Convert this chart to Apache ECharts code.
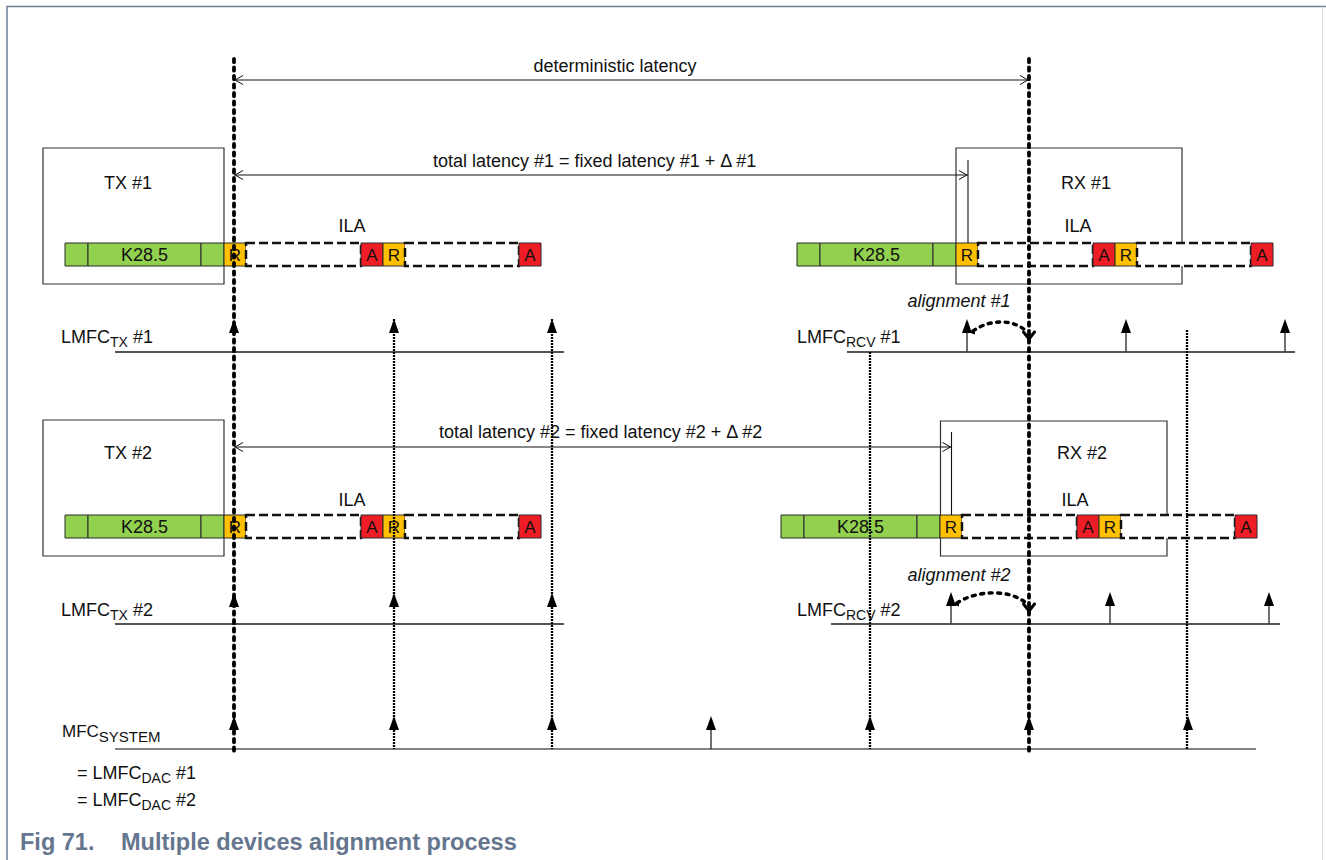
<!DOCTYPE html>
<html><head><meta charset="utf-8">
<script src="https://cdn.jsdelivr.net/npm/echarts@6/dist/echarts.min.js"></script>
<style>html,body{margin:0;padding:0;background:#fff;}#main{width:1326px;height:860px;}</style>
</head><body><div id="main"></div>
<script>
// ---------------- DATA (positions along the time axis) ----------------
const mfcSystemTicks = [234, 394, 552, 711, 870, 1029, 1188];
const lmfcTx1Ticks   = [234, 394, 552];
const lmfcRcv1Ticks  = [967, 1126, 1285];
const lmfcTx2Ticks   = [234, 394, 552];
const lmfcRcv2Ticks  = [951, 1110, 1269];
const syncEdges   = [234, 1029];              // deterministic latency bounds
const periodEdges = [394, 552, 870, 1187];    // LMFC period markers
const frameLabels  = ['', 'K28.5', '', 'R', '', 'A', 'R', '', 'A'];
const frameKinds   = ['K', 'K', 'K', 'R', 'ILA', 'A', 'R', 'ILA', 'A'];
const frameLengths = [23, 113, 23, 22, 115, 22, 22, 114, 22];
const deviceNames  = ['TX #1', 'RX #1', 'TX #2', 'RX #2'];
const deviceFrom   = [43, 956, 43, 940.5];
const deviceTo     = [224, 1182, 224, 1167];
const streamStarts = [65, 797, 65, 781];
const latencyNames = ['deterministic latency', 'total latency #1 = fixed latency #1 + Δ #1', 'total latency #2 = fixed latency #2 + Δ #2'];
const latencyFrom  = [234, 234, 234];
const latencyTo    = [1029, 968, 951.5];
const clockMain    = ['LMFC', 'LMFC', 'LMFC', 'LMFC', 'MFC'];
const clockSub     = ['TX', 'RCV', 'TX', 'RCV', 'SYSTEM'];
const clockSuffix  = ['#1', '#1', '#2', '#2', ''];
const clockTicks   = [lmfcTx1Ticks, lmfcRcv1Ticks, lmfcTx2Ticks, lmfcRcv2Ticks, mfcSystemTicks];
const clockFrom    = [115, 847, 115, 831, 115];
const clockTo      = [564, 1295, 564, 1280, 1256];
const alignNames   = ['alignment #1', 'alignment #2'];
const alignFrom    = [973, 957];
const alignTo      = [1029, 1029];
const dacNotes     = ['#1', '#2'];

// ---------------- LAYOUT (vertical lanes, label anchors) ----------------
const LAY = {
  devTop: [148, 148, 420, 421], devBottom: [284, 284, 556, 556],
  devLabel: [[128, 183], [1086, 183], [128, 453], [1082, 453]],
  ilaLabel: [[352, 226], [1078, 226], [352, 500], [1075, 500]],
  streamTop: [243, 243, 515, 515], streamH: 23,
  latY: [80, 175, 447], latLabel: [[615, 66, 'center'], [433, 161, 'left'], [439, 432, 'left']],
  latTickTop: [null, 160, 432], latTickBottom: [null, 243, 515],
  clockY: [352, 352, 624, 624, 749], clockTip: [319, 319, 593, 592, 716],
  clockLabel: [[61, 337], [797, 337], [61, 610], [797, 610], [62, 731]],
  alignY: [[331, 331], [603, 603]], alignPeak: [[988, 320, 1012, 318], [975, 591, 1008, 588]],
  alignLabel: [[959, 301], [959, 575]],
  syncTop: 59, syncBottom: 752, periodTop: [319, 319, 352, 330], periodBottom: 749,
  dacY: [773, 800], dacX: 77
};
const FONT = '"Liberation Sans", Arial, Helvetica, sans-serif';
const INK = '#111';
const COLORS = { K: '#92D050', R: '#FFC000', A: '#EE1C25', ILA: '#ffffff' };

const mctx = document.createElement('canvas').getContext('2d');
function tw(t, size, weight, style) { mctx.font = (style || 'normal') + ' ' + (weight || 'normal') + ' ' + size + 'px ' + FONT; return mctx.measureText(t).width; }
function T(x, y, text, size, o) {
  o = o || {};
  return { type: 'text', style: { x: x, y: y, text: text, fill: o.fill || INK, fontSize: size, fontFamily: FONT,
    fontWeight: o.weight || 'normal', fontStyle: o.style || 'normal', align: o.align || 'left', verticalAlign: 'middle' } };
}
function Ln(a, b, st) { return { type: 'line', shape: { x1: a[0], y1: a[1], x2: b[0], y2: b[1] }, style: Object.assign({ stroke: INK, lineWidth: 1.2, fill: null }, st || {}) }; }
function subLabel(x, y, main, sub, suffix, ms, ss, prefix) {
  const out = []; let cx = x;
  if (prefix) { out.push(T(cx, y, prefix, ms)); cx += tw(prefix + ' ', ms); }
  out.push(T(cx, y, main, ms)); cx += tw(main, ms);
  out.push(T(cx, y + 5, sub, ss)); cx += tw(sub, ss);
  if (suffix) { cx += tw(' ', ms); out.push(T(cx, y, suffix, ms)); }
  return out;
}
function onEdge(x) { return syncEdges.concat(periodEdges).some(e => Math.abs(e - x) < 3); }

// stream segments built from the frame lengths
const segs = [];
streamStarts.forEach((s, i) => { let x = s; frameLengths.forEach((len, j) => { segs.push([x, LAY.streamTop[i], x + len, i, j]); x += len; }); });

const chart = echarts.init(document.getElementById('main'), null, { renderer: 'svg' });
const base = { type: 'custom', coordinateSystem: 'cartesian2d', clip: false, silent: true, animation: false };

const option = {
  animation: false,
  grid: { left: 0, right: 0, top: 0, bottom: 0 },
  xAxis: { type: 'value', min: 0, max: 1326, show: false },
  yAxis: { type: 'value', min: 0, max: 860, inverse: true, show: false },
  graphic: [
    { type: 'polyline', shape: { points: [[7, 860], [7, 6.5], [1326, 6.5]] }, style: { stroke: '#6f7f99', lineWidth: 1.5, fill: null } },
    { type: 'line', shape: { x1: 1322.5, y1: 6.5, x2: 1322.5, y2: 860 }, style: { stroke: '#dcdcdc', lineWidth: 1 } },
    { type: 'text', left: 20, top: 830, style: { text: 'Fig 71.', fill: '#66768f', fontSize: 23.5, fontWeight: 'bold', fontFamily: FONT } },
    { type: 'text', left: 121, top: 830, style: { text: 'Multiple devices alignment process', fill: '#66768f', fontSize: 23.5, fontWeight: 'bold', fontFamily: FONT } }
  ],
  series: [
    Object.assign({}, base, { name: 'devices', z: 1, data: deviceNames.map((n, i) => [deviceFrom[i], LAY.devTop[i]]),
      renderItem: function (p, api) {
        const i = p.dataIndex;
        const a = api.coord([deviceFrom[i], LAY.devTop[i]]), b = api.coord([deviceTo[i], LAY.devBottom[i]]);
        const l = api.coord(LAY.devLabel[i]), il = api.coord(LAY.ilaLabel[i]);
        return { type: 'group', children: [
          { type: 'rect', shape: { x: a[0], y: a[1], width: b[0] - a[0], height: b[1] - a[1] }, style: { fill: null, stroke: '#333', lineWidth: 1.2 } },
          T(l[0], l[1], deviceNames[i], 18, { align: 'center' }),
          T(il[0], il[1], 'ILA', 18, { align: 'center' })
        ] };
      } }),
    Object.assign({}, base, { name: 'streams', z: 2, data: segs.map(s => [s[0], s[1]]),
      renderItem: function (p, api) {
        const s = segs[p.dataIndex], kind = frameKinds[s[4]];
        const a = api.coord([s[0], s[1]]), b = api.coord([s[2], s[1] + LAY.streamH]);
        const ch = [];
        if (kind === 'ILA') {
          ch.push({ type: 'rect', shape: { x: a[0], y: a[1], width: b[0] - a[0], height: b[1] - a[1] }, style: { fill: '#fff', stroke: INK, lineWidth: 2.5, lineDash: [9, 4] } });
        } else {
          ch.push({ type: 'rect', shape: { x: a[0], y: a[1], width: b[0] - a[0], height: b[1] - a[1] }, style: { fill: COLORS[kind], stroke: '#2a2a2a', lineWidth: 1 } });
        }
        const lab = frameLabels[s[4]];
        if (lab) ch.push(T((a[0] + b[0]) / 2, (a[1] + b[1]) / 2 + 0.5, lab, lab.length > 1 ? 18 : 17, { align: 'center' }));
        return { type: 'group', children: ch };
      } }),
    Object.assign({}, base, { name: 'latency', z: 3, data: latencyNames.map((n, i) => [latencyFrom[i], LAY.latY[i]]),
      renderItem: function (p, api) {
        const i = p.dataIndex;
        const a = api.coord([latencyFrom[i], LAY.latY[i]]), b = api.coord([latencyTo[i], LAY.latY[i]]);
        const ch = [Ln(a, b, { lineWidth: 1.1 }),
          { type: 'polyline', shape: { points: [[a[0] + 9, a[1] - 4.5], [a[0] + 1, a[1]], [a[0] + 9, a[1] + 4.5]] }, style: { stroke: INK, lineWidth: 1, fill: null } },
          { type: 'polyline', shape: { points: [[b[0] - 9, b[1] - 4.5], [b[0] - 1, b[1]], [b[0] - 9, b[1] + 4.5]] }, style: { stroke: INK, lineWidth: 1, fill: null } }];
        if (LAY.latTickTop[i] != null) ch.push(Ln(api.coord([latencyTo[i], LAY.latTickTop[i]]), api.coord([latencyTo[i], LAY.latTickBottom[i]]), { lineWidth: 1.1 }));
        const lp = api.coord([LAY.latLabel[i][0], LAY.latLabel[i][1]]);
        ch.push(T(lp[0], lp[1], latencyNames[i], 18, { align: LAY.latLabel[i][2] }));
        return { type: 'group', children: ch };
      } }),
    Object.assign({}, base, { name: 'clocks', z: 3, data: clockMain.map((n, i) => [clockFrom[i], LAY.clockY[i]]),
      renderItem: function (p, api) {
        const i = p.dataIndex, y = LAY.clockY[i], tip = LAY.clockTip[i];
        const ch = [Ln(api.coord([clockFrom[i], y]), api.coord([clockTo[i], y]), { lineWidth: i === 4 ? 1.6 : 1.3, stroke: i === 4 ? '#5a5a5a' : '#1a1a1a' })];
        clockTicks[i].forEach(x => {
          const t = api.coord([x, tip]), bse = api.coord([x, y]);
          if (!onEdge(x)) ch.push(Ln(bse, [t[0], t[1] + 10], { lineWidth: 1.4, stroke: '#333' }));
          ch.push({ type: 'polygon', shape: { points: [[t[0], t[1]], [t[0] - 5, t[1] + 14], [t[0] + 5, t[1] + 14]] }, style: { fill: '#000' } });
        });
        const lp = api.coord(LAY.clockLabel[i]);
        if (i === 4) {
          subLabel(lp[0], lp[1], clockMain[i], clockSub[i], '', 17, 15).forEach(e => ch.push(e));
          dacNotes.forEach((d, k) => {
            const dp = api.coord([LAY.dacX, LAY.dacY[k]]);
            subLabel(dp[0], dp[1], 'LMFC', 'DAC', d, 18, 14, '=').forEach(e => ch.push(e));
          });
        } else {
          subLabel(lp[0], lp[1], clockMain[i], clockSub[i], clockSuffix[i], 18, 14).forEach(e => ch.push(e));
        }
        return { type: 'group', children: ch };
      } }),
    Object.assign({}, base, { name: 'edges', z: 4, data: syncEdges.concat(periodEdges).map(x => [x, LAY.syncTop]),
      renderItem: function (p, api) {
        const i = p.dataIndex;
        if (i < syncEdges.length) {
          const x = syncEdges[i];
          return Ln(api.coord([x, LAY.syncTop]), api.coord([x, LAY.syncBottom]), { lineWidth: 3.8, lineDash: [3.2, 5.3], lineCap: 'round', stroke: '#000' });
        }
        const k = i - syncEdges.length, x = periodEdges[k];
        return Ln(api.coord([x, LAY.periodTop[k]]), api.coord([x, LAY.periodBottom]), { lineWidth: 2.3, lineDash: [2, 1], stroke: '#000' });
      } }),
    Object.assign({}, base, { name: 'alignment', z: 5, data: alignNames.map((n, i) => [alignFrom[i], LAY.alignY[i][0]]),
      renderItem: function (p, api) {
        const i = p.dataIndex;
        const s = api.coord([alignFrom[i], LAY.alignY[i][0]]);
        const e = api.coord([alignTo[i] - 3, LAY.alignY[i][1]]);
        const pk = LAY.alignPeak[i];
        const c1 = api.coord([pk[0], pk[1]]), c2 = api.coord([pk[2], pk[3]]);
        const tipP = api.coord([alignTo[i], LAY.alignY[i][1] + 8]);
        const lp = api.coord(LAY.alignLabel[i]);
        return { type: 'group', children: [
          { type: 'bezierCurve', shape: { x1: s[0], y1: s[1], cpx1: c1[0], cpy1: c1[1], cpx2: c2[0], cpy2: c2[1], x2: e[0], y2: e[1] },
            style: { stroke: '#000', lineWidth: 3.4, lineDash: [3, 5.5], lineCap: 'round', fill: null } },
          { type: 'polygon', shape: { points: [[s[0] - 4, s[1] + 1.5], [s[0] + 2, s[1] - 3], [s[0] + 2, s[1] + 3.5]] }, style: { fill: '#000' } },
          { type: 'polyline', shape: { points: [[tipP[0] - 5.5, tipP[1] - 7], [tipP[0], tipP[1]], [tipP[0] + 5.5, tipP[1] - 7]] }, style: { stroke: '#000', lineWidth: 3, fill: null, lineCap: 'round', lineJoin: 'round' } },
          T(lp[0], lp[1], alignNames[i], 18, { align: 'center', style: 'italic' })
        ] };
      } })
  ]
};
chart.setOption(option);
</script></body></html>
